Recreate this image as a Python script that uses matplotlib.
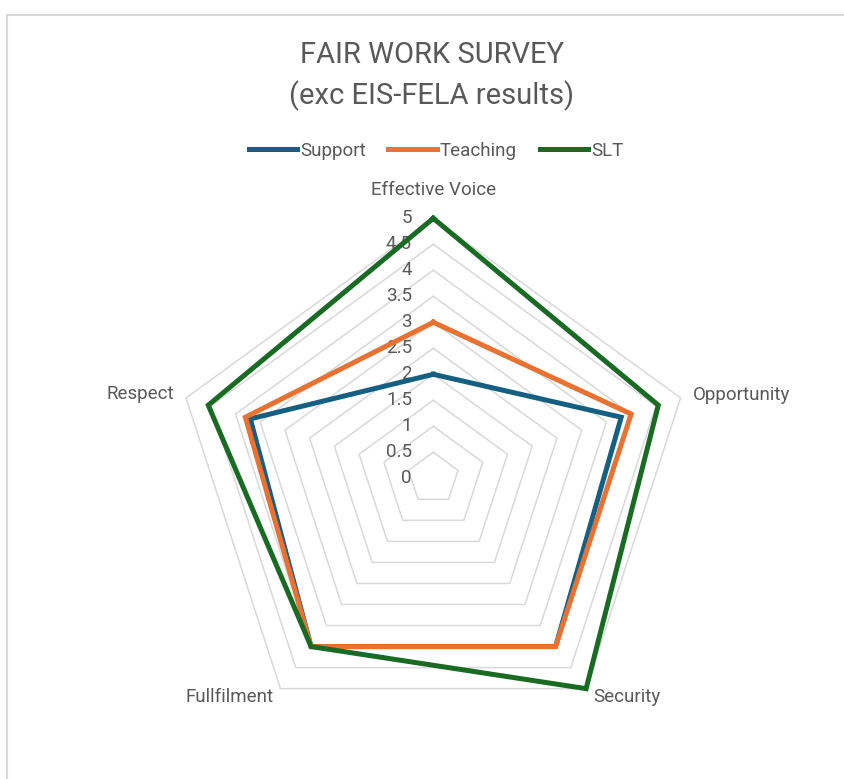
import numpy as np
import matplotlib.pyplot as plt
from matplotlib.lines import Line2D

# survey categories and average scores per staff group
categories = ["Effective Voice", "Opportunity", "Security", "Fullfilment", "Respect"]
support = [2.0, 3.8, 4.0, 4.0, 3.7]
teaching = [3.0, 4.0, 4.0, 4.0, 3.8]
slt = [5.0, 4.55, 5.0, 4.0, 4.55]
series_names = ["Support", "Teaching", "SLT"]
series_colors = ["#156082", "#E97132", "#196B24"]
ring_levels = np.arange(0.5, 5.01, 0.5)
tick_levels = np.arange(0, 5.01, 0.5)

plt.rcParams['font.family'] = ['Roboto', 'DejaVu Sans']
TXT = "#595959"
GRID = "#d9d9d9"

W, H, DPI = 845, 779, 100
UNIT = 52.0          # pixels per score point
CX, CY = 433.3, 478.3

fig = plt.figure(figsize=(W / DPI, H / DPI), dpi=DPI)
ax = fig.add_axes([0, 0, 1, 1])
ax.set_xlim(-CX / UNIT, (W - CX) / UNIT)
ax.set_ylim(-(H - CY) / UNIT, CY / UNIT)
ax.set_aspect('equal')
ax.axis('off')

n = len(categories)
angles = np.pi / 2 - 2 * np.pi * np.arange(n) / n


def to_xy(vals):
    vals = np.asarray(vals, dtype=float)
    x = vals * np.cos(angles)
    y = vals * np.sin(angles)
    return np.append(x, x[0]), np.append(y, y[0])


# pentagon grid
for lv in ring_levels:
    gx, gy = to_xy([lv] * n)
    ax.plot(gx, gy, color=GRID, lw=1.1, zorder=1)

# value labels up the first axis
for lv in tick_levels:
    ax.text(-0.41, lv, f"{lv:g}", ha='right', va='center', fontsize=13.5,
            color=TXT, zorder=2)

# the three series
for vals, name, col in zip([support, teaching, slt], series_names, series_colors):
    sx, sy = to_xy(vals)
    ax.plot(sx, sy, color=col, lw=3.6, solid_joinstyle='miter', zorder=3, label=name)

# category labels
fs = 13.5
ax.text(0, 5.55, categories[0], ha='center', va='center', fontsize=fs, color=TXT)
ax.text(5.0, 1.6, categories[1], ha='left', va='center', fontsize=fs, color=TXT)
ax.text(3.08, -4.2, categories[2], ha='left', va='center', fontsize=fs, color=TXT)
ax.text(-3.07, -4.2, categories[3], ha='right', va='center', fontsize=fs, color=TXT)
ax.text(-4.98, 1.62, categories[4], ha='right', va='center', fontsize=fs, color=TXT)

fig.text(0.511, 1 - 55 / H, "FAIR WORK SURVEY", ha='center', va='center',
         fontsize=21, color=TXT)
fig.text(0.511, 1 - 96 / H, "(exc EIS-FELA results)", ha='center', va='center',
         fontsize=21, color=TXT)

fig.legend(loc='center', bbox_to_anchor=(436 / W, 1 - 151 / H), ncol=3, frameon=False,
           fontsize=13.5, labelcolor=TXT, handlelength=2.6, handletextpad=0.15,
           columnspacing=1.2)

# chart area border (cropped on the right and bottom)
fig.add_artist(Line2D([7.5 / W, 1.0], [1 - 14.5 / H] * 2, transform=fig.transFigure,
                      color=GRID, lw=1.5))
fig.add_artist(Line2D([7.5 / W] * 2, [0.0, 1 - 14.5 / H], transform=fig.transFigure,
                      color=GRID, lw=1.5))

fig.savefig("out.png", dpi=DPI, facecolor='white')
